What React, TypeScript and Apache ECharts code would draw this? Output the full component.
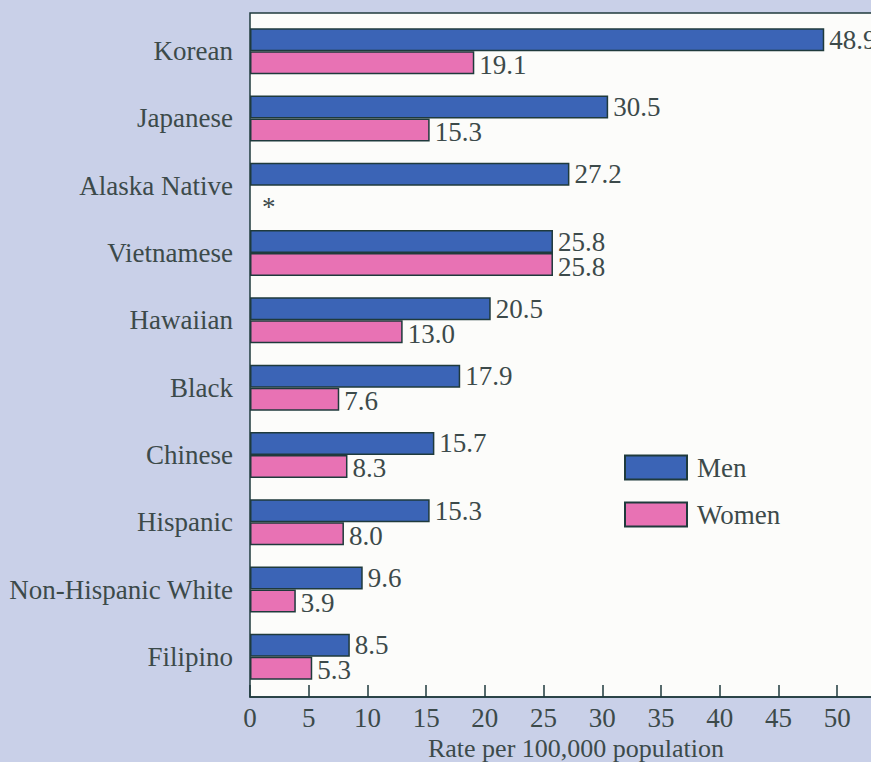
import React, { useEffect, useRef } from "react";
import * as echarts from "echarts";

const categories = [
  "Korean",
  "Japanese",
  "Alaska Native",
  "Vietnamese",
  "Hawaiian",
  "Black",
  "Chinese",
  "Hispanic",
  "Non-Hispanic White",
  "Filipino",
];
const menValues = [48.9, 30.5, 27.2, 25.8, 20.5, 17.9, 15.7, 15.3, 9.6, 8.5];
const womenValues: (number | null)[] = [19.1, 15.3, null, 25.8, 13.0, 7.6, 8.3, 8.0, 3.9, 5.3];
const missingMark = "*";
const xTicks = [0, 5, 10, 15, 20, 25, 30, 35, 40, 45, 50];

const FONT = "Liberation Serif";
const FS = 27;
const TEXT = "#3c4a4a";
const BORDER = "#1f3a3c";

export default function App() {
  const ref = useRef<HTMLDivElement>(null);
  useEffect(() => {
    if (!ref.current) return;
    const chart = echarts.init(ref.current, null, { renderer: "svg" });
    const xMin = 0;
    const xMax = 54.5;
    const left = 250;
    const right = 0;
    chart.setOption({
      animation: false,
      backgroundColor: "#c9d0e8",
      textStyle: { fontFamily: FONT },
      legend: {
        left: 624,
        top: 454,
        padding: 0,
        orient: "vertical",
        icon: "rect",
        itemWidth: 62,
        itemHeight: 24,
        itemGap: 20,
        textStyle: { fontFamily: FONT, fontSize: FS, color: TEXT, padding: [0, 0, 0, 5] },
        data: ["Men", "Women"],
      },
      grid: [
        {
          left,
          right,
          top: 13,
          bottom: 65,
          outerBoundsMode: "none",
          containLabel: false,
          show: true,
          backgroundColor: "#fcfcfa",
          borderColor: BORDER,
          borderWidth: 1.5,
        },
        {
          left,
          right,
          top: 17.5,
          bottom: 71.5,
          outerBoundsMode: "none",
          containLabel: false,
        },
      ],
      xAxis: [
        {
          gridIndex: 0,
          type: "value",
          min: xMin,
          max: xMax,
          interval: 5,
          splitLine: { show: false },
          axisLine: { show: true, onZero: false, lineStyle: { color: BORDER, width: 1.5 } },
          axisTick: { show: true, inside: true, length: 12, lineStyle: { color: BORDER, width: 1.5 } },
          axisLabel: {
            color: TEXT,
            fontFamily: FONT,
            fontSize: FS,
            margin: 7,
            showMaxLabel: false,
            formatter: (v: number) => (xTicks.includes(v) ? String(v) : ""),
          },
          name: "Rate per 100,000 population",
          nameLocation: "middle",
          nameGap: 30,
          nameTextStyle: { color: TEXT, fontFamily: FONT, fontSize: 26, padding: [0, 0, 0, 12] },
        },
        {
          gridIndex: 1,
          type: "value",
          min: xMin,
          max: xMax,
          show: false,
        },
      ],
      yAxis: [
        { gridIndex: 0, type: "value", show: false },
        {
          gridIndex: 1,
          type: "category",
          data: categories,
          inverse: true,
          axisLine: { show: false },
          axisTick: { show: false },
          axisLabel: { color: TEXT, fontFamily: FONT, fontSize: FS, margin: 17 },
        },
      ],
      series: [
        {
          name: "Men",
          type: "bar",
          xAxisIndex: 1,
          yAxisIndex: 1,
          data: menValues,
          barGap: "0%",
          barCategoryGap: "31.6%",
          itemStyle: { color: "#3b64b6", borderColor: BORDER, borderWidth: 1.5 },
          label: {
            show: true,
            position: "right",
            distance: 5,
            color: TEXT,
            fontFamily: FONT,
            fontSize: FS,
            formatter: (p: any) => Number(p.value).toFixed(1),
          },
        },
        {
          name: "Women",
          type: "bar",
          xAxisIndex: 1,
          yAxisIndex: 1,
          barGap: "0%",
          barCategoryGap: "31.6%",
          data: womenValues.map((v) =>
            v === null
              ? { value: 0, itemStyle: { borderWidth: 0 }, label: { formatter: missingMark, distance: 12, offset: [0, 10] } }
              : v
          ),
          itemStyle: { color: "#e872b4", borderColor: BORDER, borderWidth: 1.5 },
          label: {
            show: true,
            position: "right",
            distance: 5,
            offset: [0, 2],
            color: TEXT,
            fontFamily: FONT,
            fontSize: FS,
            formatter: (p: any) => Number(p.value).toFixed(1),
          },
        },
      ],
    });
    return () => chart.dispose();
  }, []);
  return (
    <div
      ref={ref}
      style={{ position: "fixed", left: 0, top: 0, width: 890, height: 762 }}
    />
  );
}
